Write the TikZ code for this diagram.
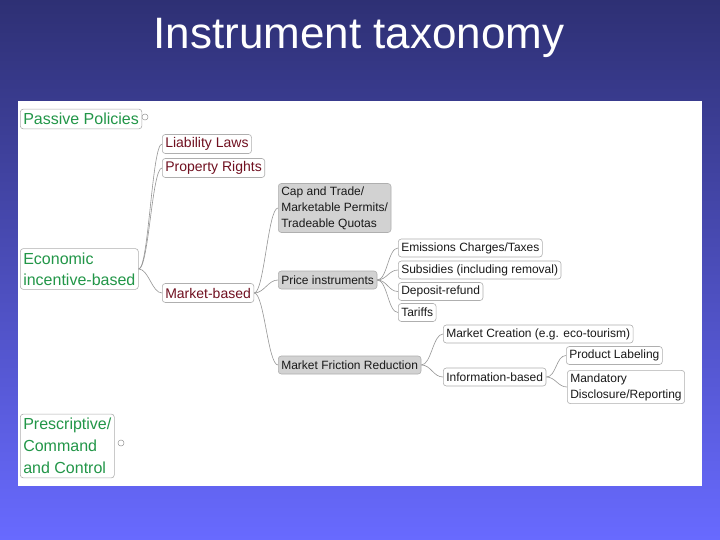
\documentclass[tikz,border=0pt]{standalone}
\usepackage{fontspec}
\setmainfont{Liberation Sans}
\definecolor{bgtop}{RGB}{46,48,116}
\definecolor{bgbot}{RGB}{104,106,255}
\definecolor{lgreen}{RGB}{34,150,72}
\definecolor{dred}{RGB}{112,16,32}
\definecolor{gfill}{RGB}{210,210,210}
\definecolor{bline}{RGB}{175,175,175}
\definecolor{cline}{RGB}{150,150,150}
\tikzset{
  box/.style={draw=bline, line width=0.6bp, rounded corners=3bp, anchor=west, align=left, inner xsep=3bp},
  lvlone/.style={box, text=lgreen, font=\fontsize{16bp}{21bp}\selectfont, inner ysep=4bp},
  lvltwo/.style={box, text=dred, font=\fontsize{14bp}{17bp}\selectfont, inner ysep=3bp, minimum height=19bp},
  grayb/.style={box, fill=gfill, text=black!90, font=\fontsize{12bp}{16bp}\selectfont, inner ysep=3bp, minimum height=18bp},
  leaf/.style={box, text=black!90, font=\fontsize{12bp}{16bp}\selectfont, inner ysep=3bp, minimum height=18bp},
  conn/.style={draw=cline, line width=0.6bp},
  collapsed/.style={draw=cline, fill=white, line width=0.5bp, circle, inner sep=0pt, minimum size=6bp}
}
\begin{document}
\begin{tikzpicture}[x=1bp,y=-1bp]
\useasboundingbox (0,0) rectangle (720,540);
\shade[top color=bgtop, bottom color=bgbot] (0,0) rectangle (720,540);
\fill[white] (18,101) rectangle (702,486);
\node[text=white, font=\fontsize{44bp}{50bp}\selectfont] (title) at (359,38) {Instrument taxonomy};

% level 1
\node[lvlone] (pp) at (20,119) {Passive Policies};
\node[lvlone] (eib) at (20,269) {Economic\\incentive-based};
\node[lvlone, font=\fontsize{16bp}{22bp}\selectfont] (pcc) at (20,446) {Prescriptive/\\Command\\and Control};
\node[collapsed] (c1) at (145,117) {};
\node[collapsed] (c2) at (121,443) {};

% level 2
\node[lvltwo] (ll) at (162,144) {Liability Laws};
\node[lvltwo] (pr) at (162,168) {Property Rights};
\node[lvltwo] (mb) at (162,293) {Market-based};

% level 3
\node[grayb] (cat) at (278,208) {Cap and Trade/\\Marketable Permits/\\Tradeable Quotas};
\node[grayb] (pi) at (278,280) {Price instruments};
\node[grayb] (mfr) at (278,365) {Market Friction Reduction};

% level 4
\node[leaf] (ect) at (398,248) {Emissions Charges/Taxes};
\node[leaf] (sub) at (398,270) {Subsidies (including removal)};
\node[leaf] (dr) at (398,291.5) {Deposit-refund};
\node[leaf] (tar) at (398,312.5) {Tariffs};
\node[leaf] (mc) at (443,334) {Market Creation (e.g. eco-tourism)};
\node[leaf] (ib) at (443,377) {Information-based};
\node[leaf] (pl) at (566,355.5) {Product Labeling};
\node[leaf] (md) at (567,387) {Mandatory\\Disclosure/Reporting};

% connectors
\foreach \c in {ll,pr,mb} \draw[conn] (eib.east) to[out=0,in=180,max distance=10bp] (\c.west);
\foreach \c in {cat,pi,mfr} \draw[conn] (mb.east) to[out=0,in=180,max distance=10bp] (\c.west);
\foreach \c in {ect,sub,dr,tar} \draw[conn] (pi.east) to[out=0,in=180,max distance=10bp] (\c.west);
\foreach \c in {mc,ib} \draw[conn] (mfr.east) to[out=0,in=180,max distance=10bp] (\c.west);
\foreach \c in {pl,md} \draw[conn] (ib.east) to[out=0,in=180,max distance=10bp] (\c.west);
\end{tikzpicture}
\end{document}
